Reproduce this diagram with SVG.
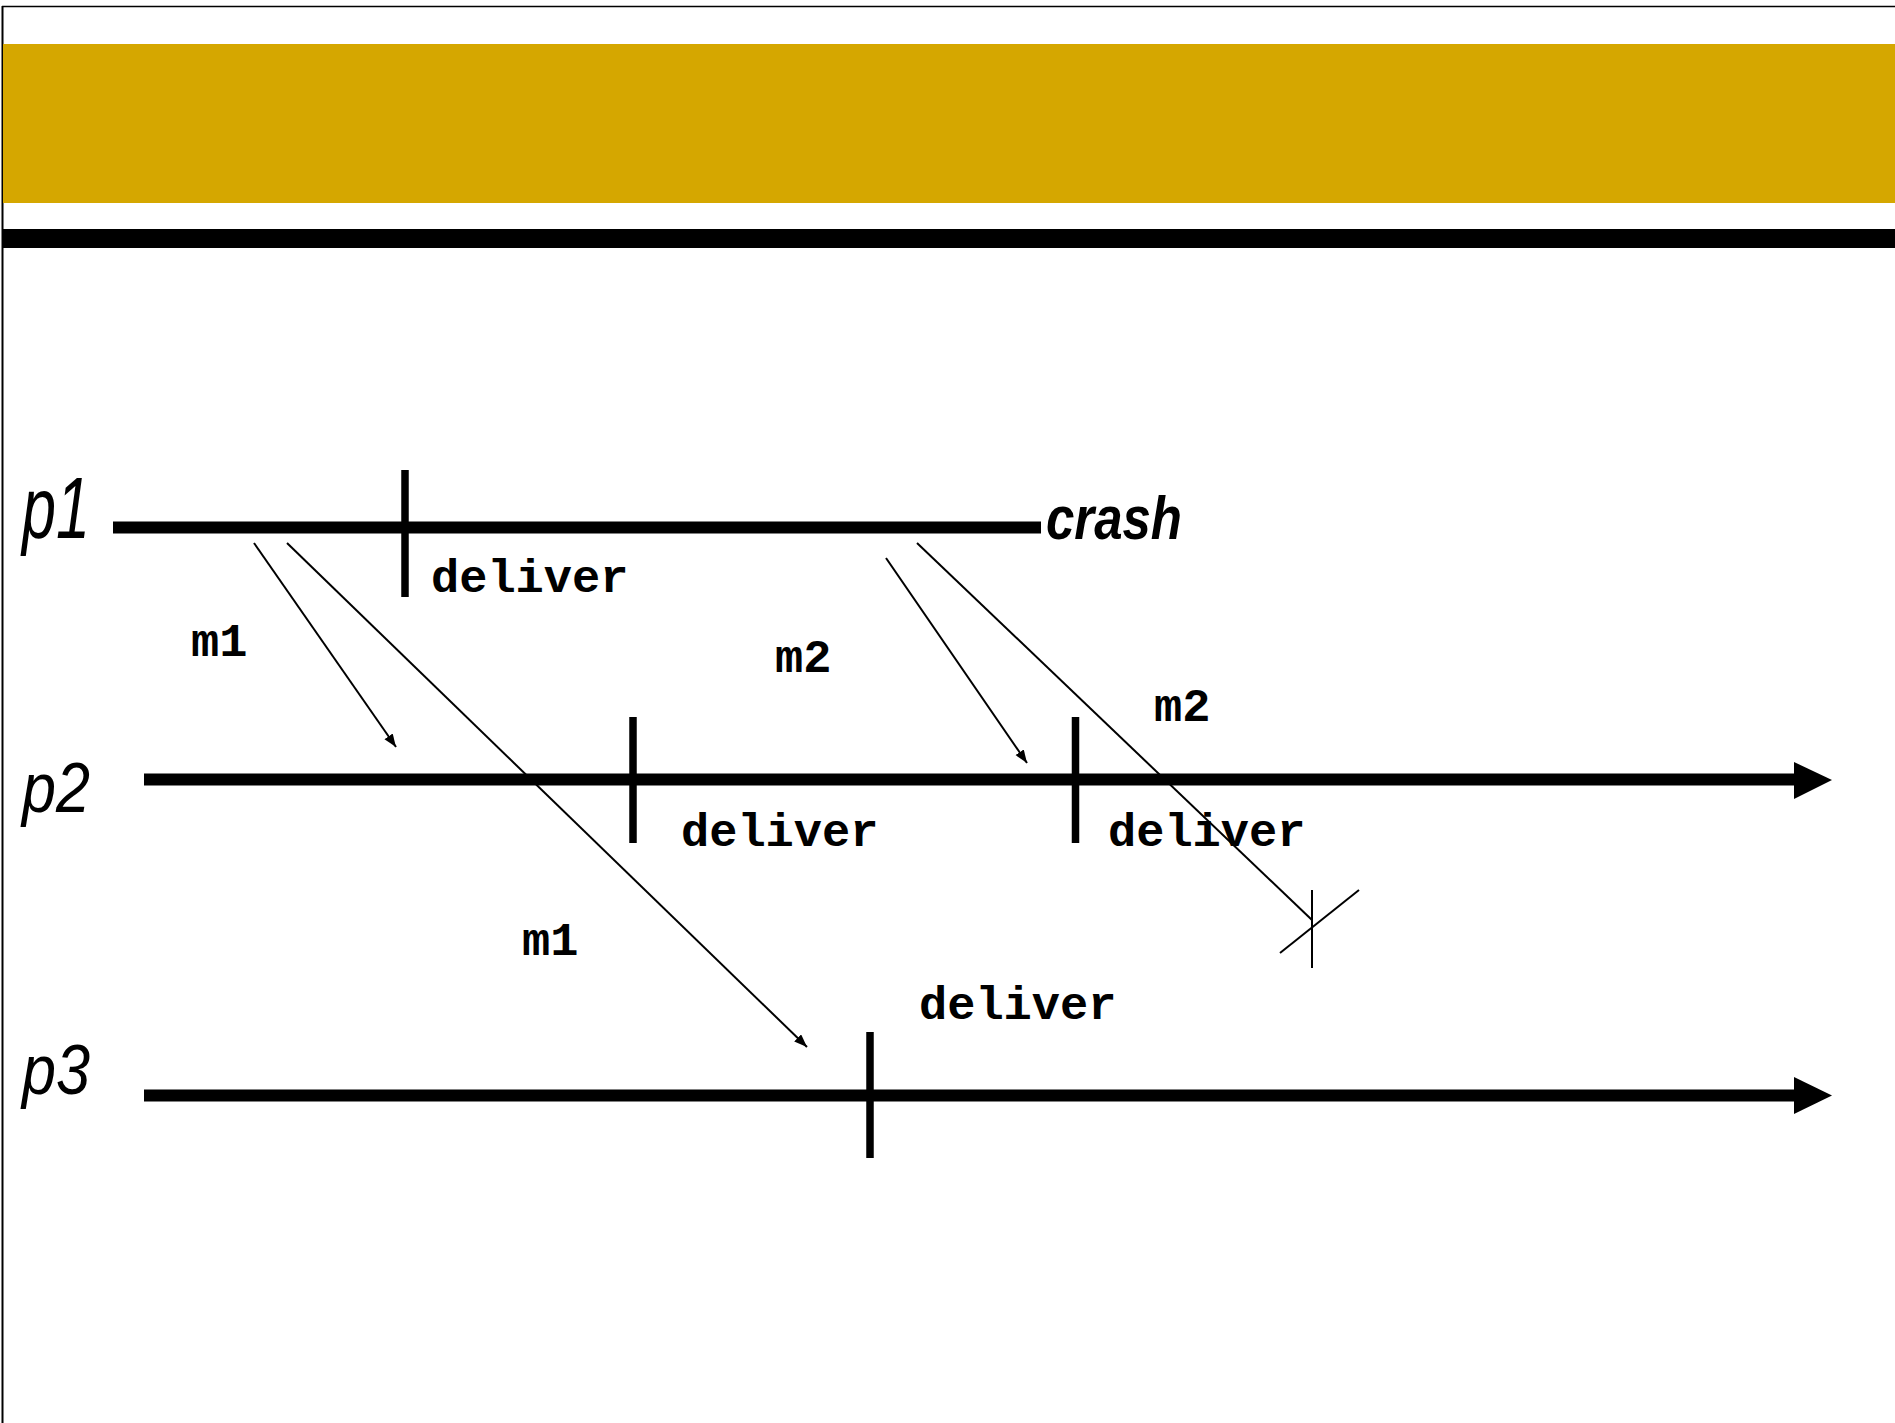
<svg xmlns="http://www.w3.org/2000/svg" width="1895" height="1423" viewBox="0 0 1895 1423">
  <defs>
    <style>
      .proc { font-family: "Liberation Sans", Arial, sans-serif; font-style: italic; font-size: 70px; fill: #000; }
      .proc-big { font-size: 88px; }
      .crash { font-family: "Liberation Sans", Arial, sans-serif; font-style: italic; font-weight: bold; font-size: 62px; fill: #000; }
      .mono { font-family: "Liberation Mono", "Courier New", monospace; font-weight: bold; font-size: 47px; fill: #000; }
      .timeline { stroke: #000; stroke-width: 12; fill: none; }
      .tick { stroke: #000; stroke-width: 7.5; fill: none; }
      .msg { stroke: #000; stroke-width: 2; fill: none; }
      .head { fill: #000; }
    </style>
    <marker id="arrow" markerUnits="userSpaceOnUse" markerWidth="14" markerHeight="12" refX="13" refY="5" orient="auto">
      <path d="M0,0 L13,5 L0,10 Z" fill="#000"/>
    </marker>
  </defs>

  <!-- page frame and title band -->
  <rect x="0" y="0" width="1895" height="1423" fill="#fff"/>
  <line x1="2" y1="6.5" x2="1895" y2="6.5" stroke="#000" stroke-width="1.5"/>
  <line x1="2.5" y1="6" x2="2.5" y2="1423" stroke="#000" stroke-width="2"/>
  <rect x="3" y="44" width="1892" height="159" fill="#D5A700"/>
  <rect x="3" y="229" width="1892" height="19" fill="#000"/>

  <!-- process p1 (crashes) -->
  <g id="p1">
    <text class="proc proc-big" x="22" y="538" textLength="68" lengthAdjust="spacingAndGlyphs">p1</text>
    <line class="timeline" x1="113" y1="527.5" x2="1041" y2="527.5"/>
    <line class="tick" x1="405" y1="470" x2="405" y2="597"/>
    <text class="mono" x="431" y="592">deliver</text>
    <text class="crash" x="1046" y="539" textLength="136" lengthAdjust="spacingAndGlyphs">crash</text>
  </g>

  <!-- process p2 -->
  <g id="p2">
    <text class="proc" x="22" y="812" textLength="68" lengthAdjust="spacingAndGlyphs">p2</text>
    <line class="timeline" x1="144" y1="779.5" x2="1796" y2="779.5"/>
    <polygon class="head" points="1794,762 1832,780 1794,799"/>
    <line class="tick" x1="633" y1="717" x2="633" y2="843"/>
    <text class="mono" x="681" y="846">deliver</text>
    <line class="tick" x1="1075.5" y1="717" x2="1075.5" y2="843"/>
    <text class="mono" x="1108" y="846">deliver</text>
  </g>

  <!-- process p3 -->
  <g id="p3">
    <text class="proc" x="22" y="1094" textLength="68" lengthAdjust="spacingAndGlyphs">p3</text>
    <line class="timeline" x1="144" y1="1095.5" x2="1796" y2="1095.5"/>
    <polygon class="head" points="1794,1077 1832,1095.5 1794,1114"/>
    <line class="tick" x1="870" y1="1032" x2="870" y2="1158"/>
    <text class="mono" x="919" y="1019">deliver</text>
  </g>

  <!-- messages -->
  <g id="connectors">
    <line class="msg" x1="254" y1="543" x2="396" y2="747" marker-end="url(#arrow)"/>
    <line class="msg" x1="287" y1="543" x2="807" y2="1047" marker-end="url(#arrow)"/>
    <line class="msg" x1="886" y1="558" x2="1027" y2="763" marker-end="url(#arrow)"/>
    <line class="msg" x1="917" y1="543" x2="1312" y2="920"/>
    <!-- lost message mark -->
    <line class="msg" x1="1312" y1="890" x2="1312" y2="968"/>
    <line class="msg" x1="1280" y1="953" x2="1359" y2="890"/>
  </g>

  <g id="labels">
    <text class="mono" x="191" y="656">m1</text>
    <text class="mono" x="775" y="672">m2</text>
    <text class="mono" x="1154" y="721">m2</text>
    <text class="mono" x="522" y="955">m1</text>
  </g>
</svg>
